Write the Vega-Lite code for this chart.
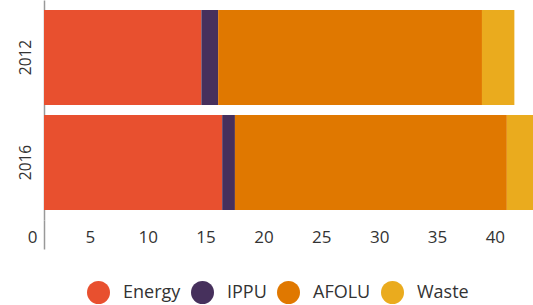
{
  "$schema": "https://vega.github.io/schema/vega-lite/v6.json",
  "width": 489,
  "height": 220,
  "autosize": {"type": "none"},
  "padding": {"left": 44, "top": 0, "right": 0, "bottom": 85},
  "config": {"view": {"stroke": null}, "font": "Open Sans"},
  "data": {
    "values": [
      {"year": "2012", "sector": "Energy", "ord": 1, "value": 13.6},
      {"year": "2012", "sector": "IPPU", "ord": 2, "value": 1.45},
      {"year": "2012", "sector": "AFOLU", "ord": 3, "value": 22.8},
      {"year": "2012", "sector": "Waste", "ord": 4, "value": 2.8},
      {"year": "2016", "sector": "Energy", "ord": 1, "value": 15.4},
      {"year": "2016", "sector": "IPPU", "ord": 2, "value": 1.1},
      {"year": "2016", "sector": "AFOLU", "ord": 3, "value": 23.5},
      {"year": "2016", "sector": "Waste", "ord": 4, "value": 3.0}
    ]
  },
  "mark": {"type": "bar", "clip": true},
  "encoding": {
    "y": {
      "field": "year", "type": "nominal", "sort": ["2012", "2016"],
      "scale": {"paddingInner": 0.095, "paddingOuter": 0.095},
      "axis": {"title": null, "labelAngle": -90, "labelFontSize": 15.5, "labelColor": "#333", "domainColor": "#999", "domainWidth": 1.5, "ticks": false, "labelPadding": 11}
    },
    "x": {
      "field": "value", "type": "quantitative", "stack": "zero",
      "scale": {"domain": [0, 42.26], "nice": false},
      "axis": {
        "title": null, "values": [0, 5, 10, 15, 20, 25, 30, 35, 40], "grid": false, "domain": false,
        "tickSize": 29, "tickWidth": 1.5, "labelFlush": false,
        "tickColor": {"condition": {"test": "datum.value === 0", "value": "#999"}, "value": "transparent"},
        "labelPadding": -20, "labelOffset": -12, "labelFontSize": 17, "labelColor": "#333"
      }
    },
    "color": {
      "field": "sector", "type": "nominal",
      "scale": {"domain": ["Energy", "IPPU", "AFOLU", "Waste"], "range": ["#E8502F", "#46305C", "#E07800", "#EAAB1E"]},
      "legend": {
        "title": null, "orient": "none", "direction": "horizontal", "legendX": 43, "legendY": 281,
        "symbolType": "circle", "symbolSize": 529, "symbolStrokeWidth": 0, "symbolOpacity": 1,
        "labelFontSize": 18, "labelColor": "#333", "labelOffset": 13, "columnPadding": 10
      }
    },
    "order": {"field": "ord", "type": "quantitative"}
  }
}
